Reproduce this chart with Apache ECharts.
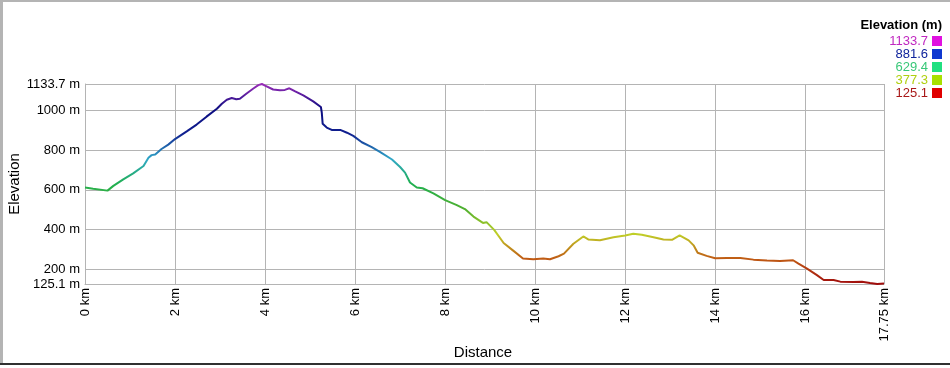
<!DOCTYPE html>
<html>
<head>
<meta charset="utf-8">
<script src="https://cdn.jsdelivr.net/npm/echarts@6/dist/echarts.min.js"></script>
<style>
html,body{margin:0;padding:0;background:#fff;}
#c{width:950px;height:368px;}
</style>
</head>
<body>
<div id="c"></div>
<script>
const distances = [0, 0.18, 0.5, 0.63, 0.85, 1.07, 1.3, 1.41, 1.48, 1.56, 1.70, 1.85, 2.0, 2.26, 2.48, 2.70, 2.93, 3.04, 3.15, 3.26, 3.36, 3.44, 3.59, 3.74, 3.85, 3.93, 4.0, 4.18, 4.33, 4.44, 4.54, 4.67, 4.85, 5.07, 5.24, 5.26, 5.28, 5.37, 5.48, 5.67, 5.82, 5.96, 6.15, 6.37, 6.56, 6.82, 7.0, 7.11, 7.22, 7.37, 7.5, 7.74, 8.0, 8.26, 8.44, 8.63, 8.84, 8.92, 9.09, 9.3, 9.52, 9.73, 9.96, 10.18, 10.33, 10.52, 10.64, 10.85, 11.07, 11.18, 11.44, 11.74, 12.0, 12.18, 12.37, 12.63, 12.85, 13.04, 13.21, 13.41, 13.52, 13.61, 13.81, 14.0, 14.26, 14.56, 14.85, 15.15, 15.44, 15.73, 15.85, 16.04, 16.26, 16.41, 16.63, 16.78, 17.07, 17.26, 17.44, 17.6, 17.75];
const elevations = [612, 606, 596, 620, 653, 683, 720, 762, 775, 778, 806, 828, 856, 895, 929, 969, 1009, 1034, 1054, 1063, 1057, 1059, 1086, 1111, 1128, 1133.7, 1126, 1106, 1102, 1104, 1112, 1096, 1076, 1046, 1018, 990, 933, 914, 902, 902, 888, 872, 840, 815, 790, 753, 715, 687, 637, 612, 608, 582, 548, 523, 503, 465, 433, 437, 398, 332, 292, 254, 250, 254, 250, 265, 278, 328, 365, 350, 346, 361, 370, 378, 373, 361, 350, 348, 370, 345, 320, 283, 267, 255, 256, 256, 248, 243, 241, 245, 228, 203, 170, 145, 145, 137, 135, 137, 130, 125.1, 128];
const xTicks = [0, 2, 4, 6, 8, 10, 12, 14, 16, 17.75];
const yTicks = [125.1, 200, 400, 600, 800, 1000, 1133.7];
const legendValues = ['1133.7', '881.6', '629.4', '377.3', '125.1'];
const legendTextColors = ['#c028c0', '#10249c', '#38c878', '#b0d010', '#a81818'];
const legendBoxColors = ['#e010e0', '#1038d0', '#20e080', '#a8e000', '#e00000'];
const lineColors = ['#a00c0c', '#c05a14', '#c0d028', '#50b030', '#20b050', '#30a8c8', '#102090', '#0c0c80', '#9a2cb8'];

const FONT = "'Liberation Sans', Arial, sans-serif";
const chart = echarts.init(document.getElementById('c'));

const data = distances.map((d, i) => [d, elevations[i]]);

const graphics = [
  {type: 'rect', shape: {x: 0, y: 0, width: 950, height: 2}, style: {fill: '#b4b4b4'}, silent: true},
  {type: 'rect', shape: {x: 0, y: 0, width: 3, height: 365}, style: {fill: '#b4b4b4'}, silent: true},
  {type: 'rect', shape: {x: 0, y: 363, width: 950, height: 2}, style: {fill: '#303030'}, silent: true},
  {type: 'text', x: 483, y: 353, style: {text: 'Distance', font: '15px ' + FONT, fill: '#000', align: 'center', verticalAlign: 'middle'}},
  {type: 'text', x: 15, y: 184, rotation: Math.PI / 2, style: {text: 'Elevation', font: '15px ' + FONT, fill: '#000', align: 'center', verticalAlign: 'middle'}},
  {type: 'text', x: 942, y: 25, style: {text: 'Elevation (m)', font: 'bold 13px ' + FONT, fill: '#000', align: 'right', verticalAlign: 'middle'}}
];
legendValues.forEach((v, i) => {
  const cy = 41 + i * 13;
  graphics.push({type: 'text', x: 928, y: cy, style: {text: v, font: '13px ' + FONT, fill: legendTextColors[i], align: 'right', verticalAlign: 'middle'}});
  graphics.push({type: 'rect', shape: {x: 932, y: cy - 5, width: 10, height: 10}, style: {fill: legendBoxColors[i]}});
});

chart.setOption({
  animation: false,
  backgroundColor: '#fff',
  grid: {left: 85, right: 66, top: 84, bottom: 84},
  xAxis: {
    type: 'value', min: 0, max: 17.75,
    axisLine: {show: true, lineStyle: {color: '#b4b4b4', width: 1}},
    axisTick: {show: false, customValues: xTicks},
    axisLabel: {customValues: xTicks, rotate: 90, margin: 4, fontSize: 13, fontFamily: FONT, color: '#000',
      formatter: v => v + ' km'},
    splitLine: {show: true, lineStyle: {color: '#b4b4b4', width: 1}}
  },
  yAxis: {
    type: 'value', min: 125.1, max: 1133.7,
    axisLine: {show: true, lineStyle: {color: '#b4b4b4', width: 1}},
    axisTick: {show: false, customValues: yTicks},
    axisLabel: {customValues: yTicks, margin: 5, fontSize: 13, fontFamily: FONT, color: '#000',
      formatter: v => v + ' m'},
    splitLine: {show: true, lineStyle: {color: '#b4b4b4', width: 1}}
  },
  visualMap: {
    type: 'continuous', show: false, dimension: 1, seriesIndex: 0,
    min: 125.1, max: 1133.7,
    inRange: {color: lineColors}
  },
  series: [{
    type: 'line', data: data, showSymbol: false, symbol: 'none',
    lineStyle: {width: 2}
  }],
  graphic: graphics
});
</script>
</body>
</html>
